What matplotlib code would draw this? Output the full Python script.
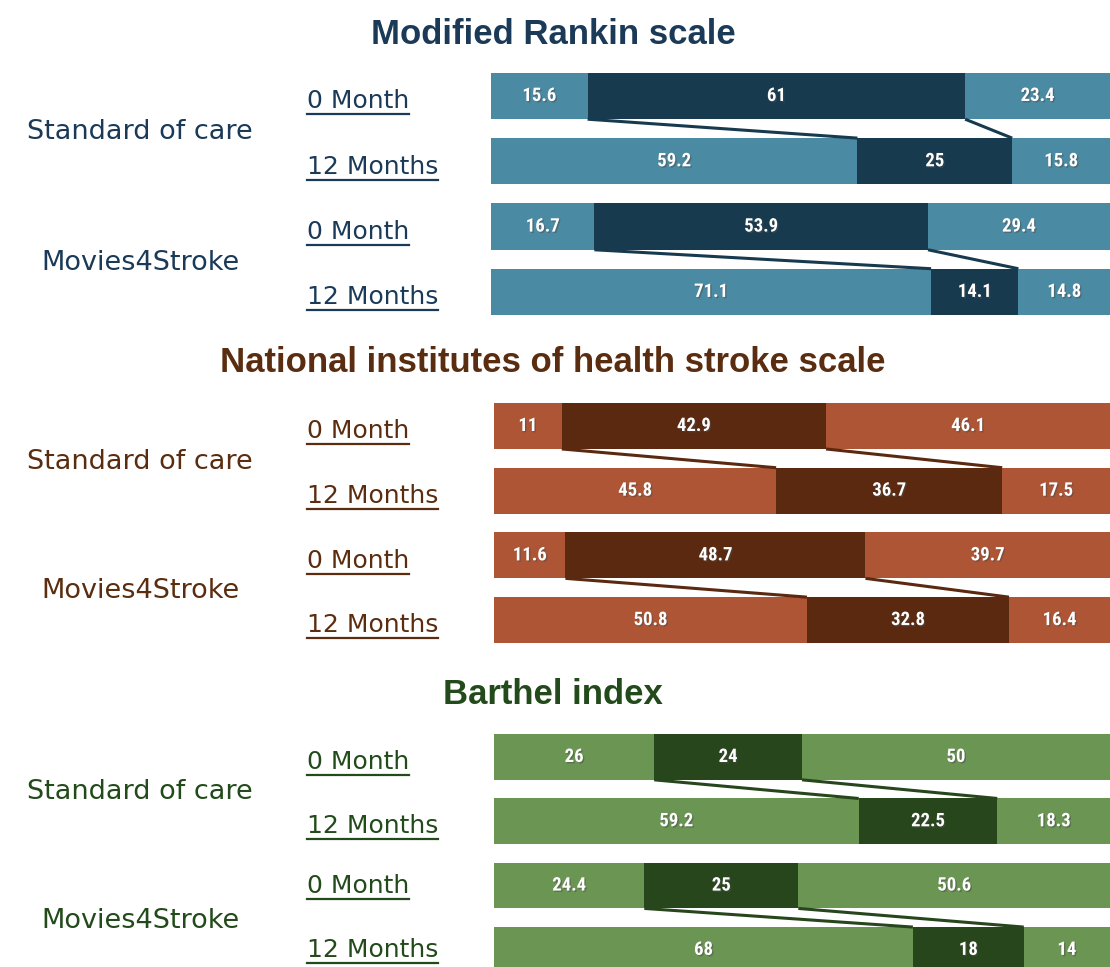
import matplotlib
matplotlib.use("Agg")
import matplotlib.pyplot as plt
import matplotlib.transforms as mtransforms
import matplotlib.patheffects as pe
from matplotlib.lines import Line2D

# data
titles = ["Modified Rankin scale",
          "National institutes of health stroke scale",
          "Barthel index"]
groups = ["Standard of care", "Movies4Stroke"]
times = ["0 Month", "12 Months"]

rankin = [[15.6, 61, 23.4], [59.2, 25, 15.8], [16.7, 53.9, 29.4], [71.1, 14.1, 14.8]]
nihss = [[11, 42.9, 46.1], [45.8, 36.7, 17.5], [11.6, 48.7, 39.7], [50.8, 32.8, 16.4]]
barthel = [[26, 24, 50], [59.2, 22.5, 18.3], [24.4, 25, 50.6], [68, 18, 14]]
panels = [rankin, nihss, barthel]

light = ["#4a8aa2", "#ad5535", "#6a9553"]
dark = ["#173a4f", "#5b2810", "#27461c"]
text_col = ["#1b3a58", "#5a2d10", "#224a1a"]

W, H = 1110, 967
fig = plt.figure(figsize=(W / 100, H / 100), dpi=100)

# layout in pixels: bar left edge, first row centre, row spacing, title y
x0s = [491, 494, 494]
row0 = [96, 426, 757]
step = [65.3, 64.7, 64.3]
title_y = [35, 362, 694]
bar_h = 0.71

rows = []
for p in range(3):
    top = row0[p] - step[p] / 2
    bot = top + 4 * step[p]
    ax = fig.add_axes([x0s[p] / W, 1 - bot / H, (W - x0s[p]) / W, (bot - top) / H])
    ax.set_xlim(0, 100)
    ax.set_ylim(3.5, -0.5)
    ax.axis("off")
    data = panels[p]
    for r, vals in enumerate(data):
        left = 0
        for k, v in enumerate(vals):
            c = dark[p] if k == 1 else light[p]
            ax.barh(r, v, left=left, height=bar_h, color=c, edgecolor="none")
            ax.text(left + v / 2, r, f"{v:g}", ha="center", va="center",
                    color="white", fontsize=13.5, fontweight="bold",
                    fontstretch="condensed",
                    family=["Roboto Condensed", "Liberation Sans Narrow", "Roboto"],
                    path_effects=[pe.withSimplePatchShadow(offset=(1, -1), alpha=0.5)])
            left += v
    # connectors between 0 month and 12 months
    for r in (0, 2):
        a, b = data[r], data[r + 1]
        for xa, xb in ((a[0], b[0]), (a[0] + a[1], b[0] + b[1])):
            ax.plot([xa, xb], [r + bar_h / 2, r + 1 - bar_h / 2],
                    color=dark[p], lw=2.2, solid_capstyle="butt")

    fig.text(553 / W, 1 - title_y[p] / H, titles[p], ha="center", va="center",
             fontsize=25, fontweight="bold", color=text_col[p],
             family=["Liberation Sans", "DejaVu Sans"])

    tr = mtransforms.blended_transform_factory(fig.transFigure, ax.transData)
    for g in range(2):
        fig.text(140 / W, 2 * g + 0.55, groups[g], transform=tr, ha="center",
                 va="center", fontsize=19.5, color=text_col[p])
        for t in range(2):
            off = 0.08 if (p < 2 or g == 0) else 0.0
            txt = fig.text(307 / W, 2 * g + t + off, times[t], transform=tr,
                           ha="left", va="center", fontsize=18, color=text_col[p])
            rows.append((txt, text_col[p]))

# underline the time labels
renderer = fig.canvas.get_renderer()
for txt, col in rows:
    bb = txt.get_window_extent(renderer)
    y = max(bb.y0 - 1, 3) / H
    fig.add_artist(Line2D([bb.x0 / W, bb.x1 / W], [y, y], color=col, lw=1.6))

fig.savefig("out.png", dpi=100)
